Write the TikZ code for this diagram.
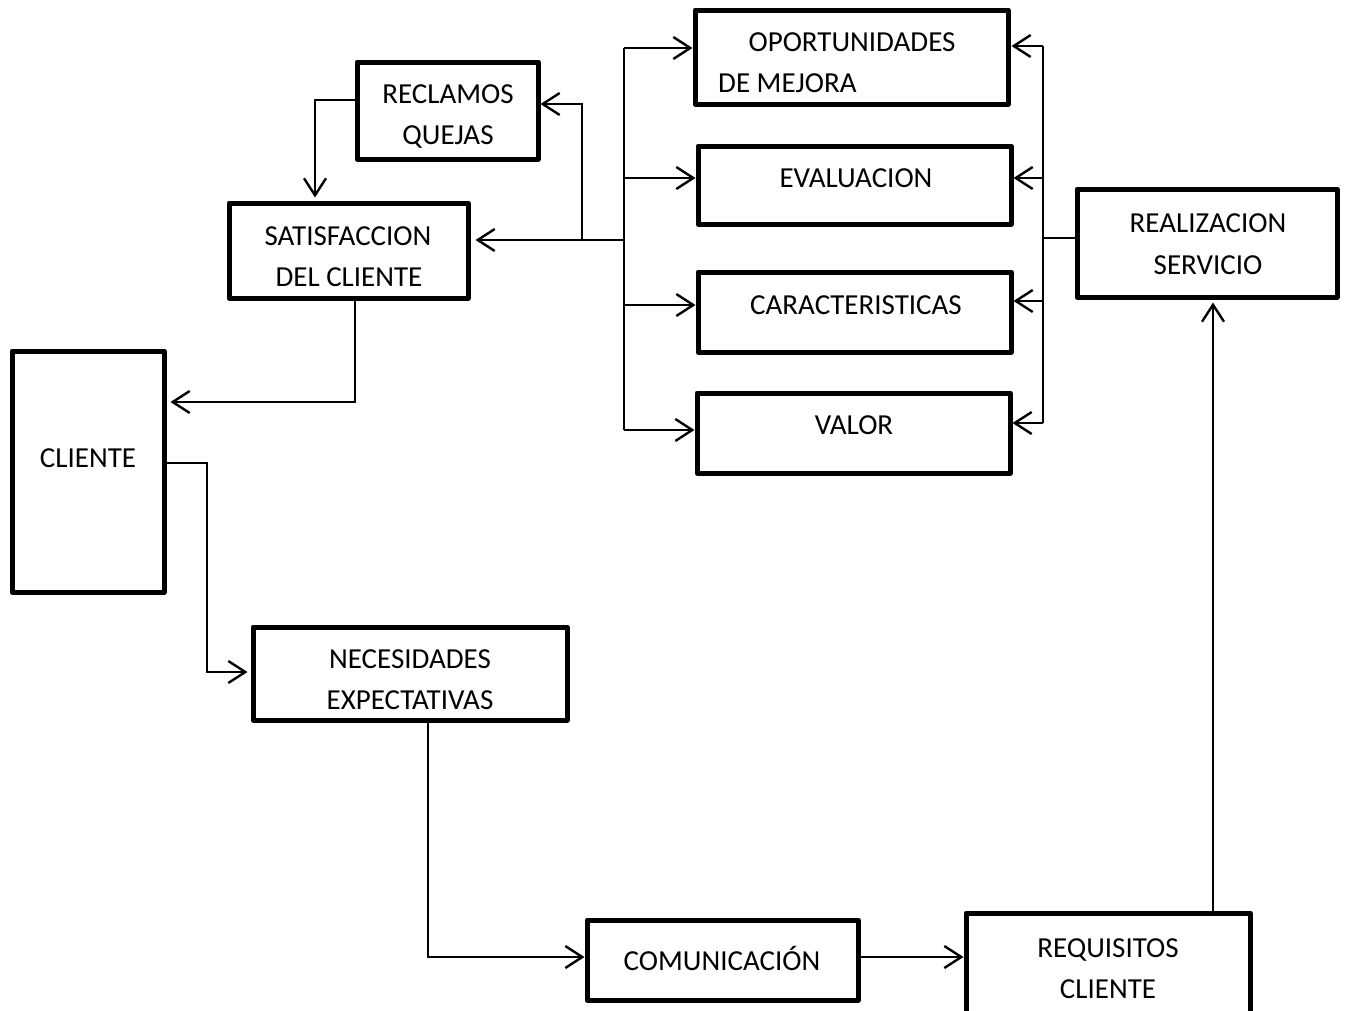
\documentclass[tikz,border=0pt]{standalone}
\usepackage{fontspec}
\setmainfont{Carlito}
\usetikzlibrary{arrows.meta}
\begin{document}
\begin{tikzpicture}[x=1pt,y=-1pt,
  box/.style={draw, line width=5pt, line join=round, inner sep=0pt, rectangle},
  txt/.style={anchor=base, inner sep=0pt, font=\fontsize{29}{34}\selectfont},
  link/.style={line width=2.4pt},
  arr/.style={link, -{Straight Barb[length=17pt,width=22pt,line width=2.4pt]}}]
\path[use as bounding box] (0,0) rectangle (1347,1010);
\clip (0,0) rectangle (1347,1010);

% boxes
\node[box, minimum width=313pt, minimum height=94pt]  (opo) at (851.5,57)   {};
\node[box, minimum width=181pt, minimum height=97pt]  (rec) at (447.5,110.5) {};
\node[box, minimum width=313pt, minimum height=78pt]  (eva) at (854.5,185)  {};
\node[box, minimum width=239pt, minimum height=95pt]  (sat) at (348.5,250.5) {};
\node[box, minimum width=260pt, minimum height=108pt] (rea) at (1207,243)   {};
\node[box, minimum width=313pt, minimum height=80pt]  (car) at (854.5,312)  {};
\node[box, minimum width=313pt, minimum height=80pt]  (val) at (853.5,433)  {};
\node[box, minimum width=152pt, minimum height=241pt] (cli) at (88,471.5)   {};
\node[box, minimum width=314pt, minimum height=93pt]  (nec) at (410,673.5)  {};
\node[box, minimum width=271pt, minimum height=80pt]  (com) at (722.5,960)  {};
\node[box, minimum width=284pt, minimum height=140pt] (req) at (1108,983)   {};

% labels
\node[txt] (opo1) at (852,51)  {OPORTUNIDADES};
\node[txt, anchor=base west] (opo2) at (718,92) {DE MEJORA};
\node[txt] (rec1) at (448,103) {RECLAMOS};
\node[txt] (rec2) at (448,144) {QUEJAS};
\node[txt] (eva1) at (856,187) {EVALUACION};
\node[txt] (sat1) at (348,245) {SATISFACCION};
\node[txt] (sat2) at (349,286) {DEL CLIENTE};
\node[txt] (rea1) at (1208,232) {REALIZACION};
\node[txt] (rea2) at (1208,274) {SERVICIO};
\node[txt] (car1) at (856,314) {CARACTERISTICAS};
\node[txt] (val1) at (854,434) {VALOR};
\node[txt] (cli1) at (88,467)  {CLIENTE};
\node[txt] (nec1) at (410,668) {NECESIDADES};
\node[txt] (nec2) at (410,709) {EXPECTATIVAS};
\node[txt] (com1) at (722,970) {COMUNICACIÓN};
\node[txt] (req1) at (1108,957) {REQUISITOS};
\node[txt] (req2) at (1108,998) {CLIENTE};

% junction points
\coordinate (lt) at (624,48);
\coordinate (lb) at (624,430);
\coordinate (lj) at (624,240);
\coordinate (bj) at (582,240);
\coordinate (bt) at (582,104);
\coordinate (rt) at (1043,46);
\coordinate (rb) at (1043,423);
\coordinate (rj) at (1043,238);
\coordinate (qa) at (315,100);
\coordinate (sa) at (355,402);
\coordinate (ca) at (207,463);
\coordinate (cb) at (207,672);
\coordinate (na) at (428,957);
\coordinate (ra) at (1213,913);

% left distribution trunk
\draw[link] (lt) -- (lb);
\draw[arr] (lt) -- (lt -| opo.west);
\draw[arr] (624,178) -- (624,178 -| eva.west);
\draw[arr] (624,305) -- (624,305 -| car.west);
\draw[arr] (lb) -- (lb -| val.west);
\draw[arr, shorten >=5pt] (lj) -- (lj -| sat.east);
\draw[arr] (bj) -- (bt) -- (bt -| rec.east);

% right distribution trunk
\draw[link] (rt) -- (rb);
\draw[link] (rea.west |- rj) -- (rj);
\draw[arr, shorten >=1pt] (rt) -- (rt -| opo.east);
\draw[arr] (1043,178) -- (1043,178 -| eva.east);
\draw[arr] (1043,301) -- (1043,301 -| car.east);
\draw[arr] (rb) -- (rb -| val.east);

% loop through the client
\draw[arr, shorten >=3pt] (rec.west |- qa) -- (qa) -- (qa |- sat.north);
\draw[arr, shorten >=4pt] (sat.south -| sa) -- (sa) -- (sa -| cli.east);
\draw[arr, shorten >=3pt] (cli.east |- ca) -- (ca) -- (cb) -- (cb -| nec.west);
\draw[arr] (nec.south -| na) -- (na) -- (na -| com.west);
\draw[arr] (com.east |- na) -- (na -| req.west);
\draw[arr, shorten >=3pt] (ra) -- (ra |- rea.south);
\end{tikzpicture}
\end{document}
